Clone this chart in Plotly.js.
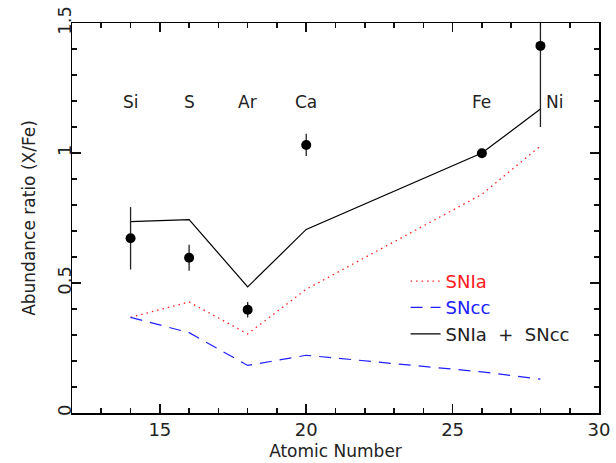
<!DOCTYPE html>
<html>
<head>
<meta charset="utf-8">
<script src="https://cdn.plot.ly/plotly-3.0.1.min.js"></script>
<style>html,body{margin:0;padding:0;background:#fff;}#chart{width:616px;height:463px;}</style>
</head>
<body>
<div id="chart"></div>
<script>
// Observed abundance ratios
const elements = ["Si", "S", "Ar", "Ca", "Fe", "Ni"];
const atomicNumber = [14, 16, 18, 20, 26, 28];
const observed = [0.672, 0.597, 0.397, 1.031, 0.999, 1.412];
const observedErr = [0.12, 0.05, 0.03, 0.043, 0, 0.312];
// Model curves
const snIa = [0.368, 0.427, 0.304, 0.476, 0.841, 1.027];
const snCC = [0.368, 0.309, 0.183, 0.222, 0.158, 0.13];
const snSum = [0.736, 0.744, 0.485, 0.706, 1.0, 1.169];
const labelY = 1.196;

const FONT = "DejaVu Sans, sans-serif";
const TXT = "#222";

const traces = [
  {x: atomicNumber, y: snIa, mode: "lines", name: "<span style='color:#ff2020'>SNIa</span>",
   line: {color: "#ff2020", width: 1.3, dash: "1.5px,4px"}},
  {x: atomicNumber, y: snCC, mode: "lines", name: "<span style='color:#2020ff'>SNcc</span>",
   line: {color: "#2020ff", width: 1.2, dash: "12px,8px"}},
  {x: atomicNumber, y: snSum, mode: "lines", name: "SNIa\u00A0\u00A0+\u00A0\u00A0SNcc",
   line: {color: "#000", width: 1.2}},
  {x: atomicNumber, y: observed, mode: "markers", showlegend: false,
   marker: {color: "#000", size: 10},
   error_y: {type: "data", array: observedErr, visible: true, color: "#222", thickness: 1.3, width: 0}}
];

const annotations = elements.map((el, i) => ({
  x: atomicNumber[i], y: labelY, xref: "x", yref: "y", text: el, showarrow: false,
  xanchor: el === "Ni" ? "left" : "center", xshift: el === "Ni" ? 4 : 0,
  font: {family: FONT, size: 17, color: TXT}
}));

const layout = {
  width: 616, height: 463,
  margin: {l: 72, r: 17, t: 23, b: 50},
  paper_bgcolor: "#fff", plot_bgcolor: "#fff",
  font: {family: FONT, color: TXT, size: 17},
  showlegend: true,
  legend: {x: 0.633, y: 0.385, xanchor: "left", yanchor: "top", bgcolor: "rgba(0,0,0,0)",
           font: {family: FONT, size: 18, color: TXT}, tracegroupgap: 0},
  xaxis: {
    range: [12, 30], dtick: 5, ticks: "inside", ticklen: 9, tickwidth: 1.6,
    tickcolor: "#111", showline: true, linecolor: "#000", linewidth: 1.5, mirror: "allticks",
    showgrid: false, zeroline: false,
    minor: {dtick: 1, ticks: "inside", ticklen: 5, tickcolor: "#111", tickwidth: 1.6, showgrid: false},
    tickfont: {family: FONT, size: 18, color: TXT},
    title: {text: "Atomic Number", font: {family: FONT, size: 17, color: TXT}, standoff: 6}
  },
  yaxis: {
    range: [0, 1.5], dtick: 0.5,
    ticks: "inside", ticklen: 9, tickwidth: 1.6, tickangle: -90, ticklabelstandoff: -8,
    tickcolor: "#111", showline: true, linecolor: "#000", linewidth: 1.5, mirror: "allticks",
    showgrid: false, zeroline: false,
    minor: {dtick: 0.1, ticks: "inside", ticklen: 5, tickcolor: "#111", tickwidth: 1.6, showgrid: false},
    tickfont: {family: FONT, size: 18, color: TXT},
    title: {text: "Abundance ratio (X/Fe)", font: {family: FONT, size: 17, color: TXT}, standoff: 14}
  },
  annotations: annotations
};

Plotly.newPlot("chart", traces, layout, {displayModeBar: false, staticPlot: true});
</script>
</body>
</html>
